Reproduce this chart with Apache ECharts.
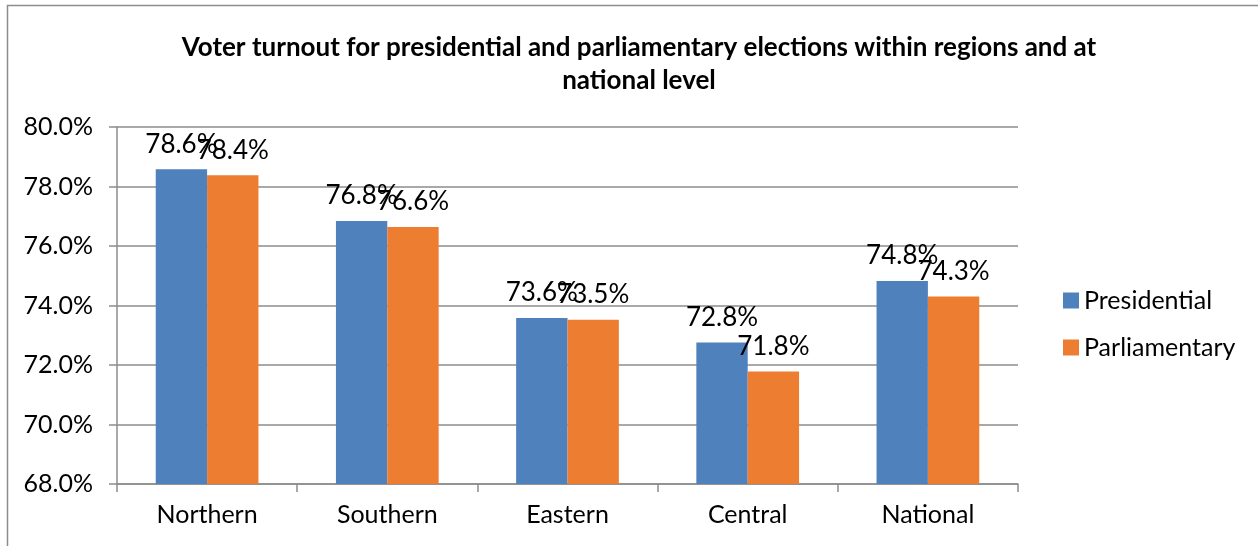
<!DOCTYPE html>
<html lang="en">
<head>
    <meta charset="UTF-8">
    <title>Voter turnout</title>
    <style>
        html, body { margin: 0; padding: 0; background: #fff; }
        .div { width: 1258px; height: 546px; }
    </style>
</head>
<body>
    <div class="div"></div>
    <script src="https://cdn.jsdelivr.net/npm/echarts@6/dist/echarts.min.js"></script>
    <script>
        var regions = ['Northern', 'Southern', 'Eastern', 'Central', 'National']
        var presidential = [78.58, 76.84, 73.58, 72.76, 74.82]
        var parliamentary = [78.38, 76.64, 73.52, 71.78, 74.3]
        var seriesNames = ['Presidential', 'Parliamentary']
        var colorItem = ['#4f81bd', '#ed7d31']
        var fontName = 'Lato'

        var myecharts = echarts.init(document.getElementsByClassName('div')[0]);

        function pct(v) {
            return v.toFixed(1) + '%'
        }

        var labelStyle = {
            show: true,
            position: 'top',
            distance: 12,
            color: '#000',
            fontSize: 26,
            fontFamily: fontName,
            formatter: function (p) { return pct(p.value) }
        }

        var option = {
            animation: false,
            color: colorItem,
            title: {
                text: 'Voter turnout for presidential and parliamentary elections within regions and at\nnational level',
                left: 634,
                top: 26,
                textAlign: 'center',
                textStyle: {
                    fontFamily: fontName,
                    fontWeight: 'bold',
                    fontSize: 26,
                    lineHeight: 33,
                    color: '#000'
                }
            },
            // outer frame
            graphic: [{
                type: 'rect',
                shape: { x: 7.5, y: 5.5, width: 1260, height: 560 },
                style: { fill: 'none', stroke: '#8c8c8c', lineWidth: 1.5 }
            }],
            legend: {
                orient: 'vertical',
                left: 1058,
                top: 283,
                itemWidth: 16,
                itemHeight: 16,
                itemGap: 22,
                icon: 'rect',
                textStyle: { fontFamily: fontName, fontSize: 25, color: '#000' },
                data: seriesNames
            },
            grid: {
                left: 117,
                right: 240,
                top: 127,
                bottom: 62
            },
            xAxis: {
                type: 'category',
                data: regions,
                axisLine: { lineStyle: { color: '#8c8c8c', width: 1.5 } },
                axisTick: { show: true, length: 8, lineStyle: { color: '#8c8c8c', width: 1.5 } },
                axisLabel: { color: '#000', fontSize: 25, fontFamily: fontName, margin: 18 }
            },
            yAxis: {
                type: 'value',
                min: 68,
                max: 80,
                interval: 2,
                axisLine: { show: true, lineStyle: { color: '#8c8c8c', width: 1.5 } },
                axisTick: { show: true, length: 8, lineStyle: { color: '#8c8c8c', width: 1.5 } },
                axisLabel: {
                    color: '#000', fontSize: 25, fontFamily: fontName, margin: 24,
                    formatter: function (v) { return v.toFixed(1) + '%' }
                },
                splitLine: { lineStyle: { color: '#8c8c8c', width: 1.5 } }
            },
            series: [
                {
                    name: seriesNames[0],
                    type: 'bar',
                    data: presidential,
                    barGap: '0%',
                    barCategoryGap: '43%',
                    label: labelStyle,
                    itemStyle: { color: colorItem[0] }
                },
                {
                    name: seriesNames[1],
                    type: 'bar',
                    data: parliamentary,
                    barGap: '0%',
                    barCategoryGap: '43%',
                    label: labelStyle,
                    itemStyle: { color: colorItem[1] }
                }
            ]
        }
        myecharts.setOption(option);
        window.onresize = myecharts.resize
    </script>
</body>
</html>
